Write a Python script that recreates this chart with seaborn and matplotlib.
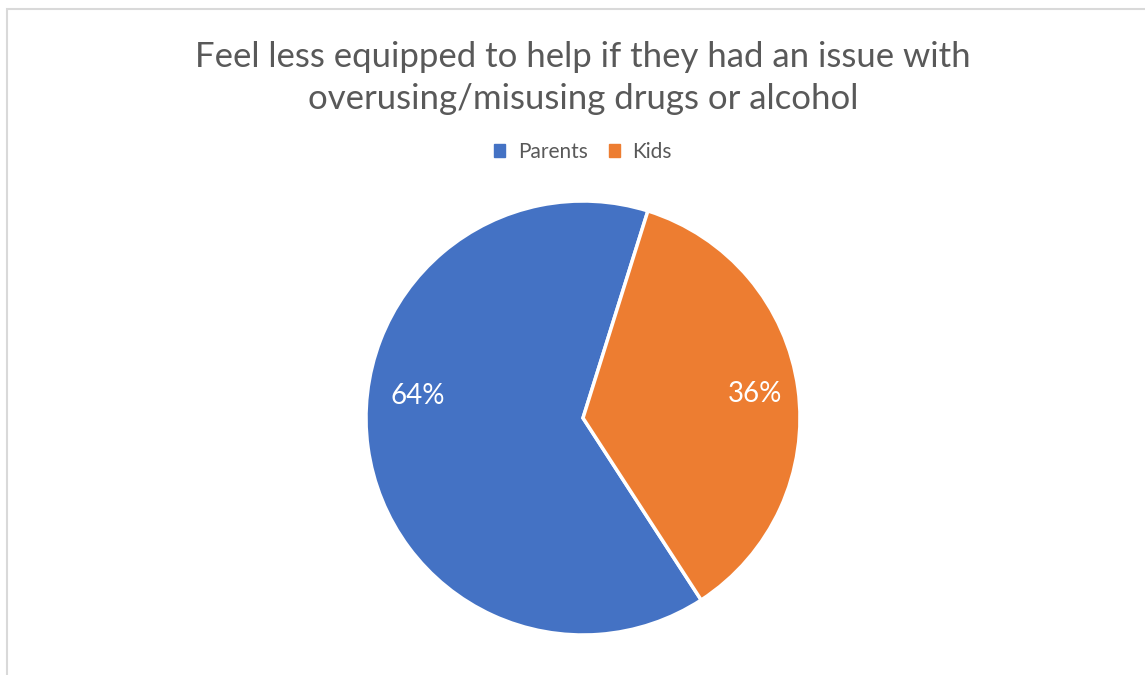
import matplotlib.pyplot as plt
import seaborn as sns
from matplotlib.patches import Rectangle

# Chart data
groups = ['Parents', 'Kids']
shares = [64, 36]
colors = ['#4472C4', '#ED7D31']
title = 'Feel less equipped to help if they had an issue with\noverusing/misusing drugs or alcohol'

sns.set_theme(style='white')
plt.rcParams['font.family'] = ['Lato', 'DejaVu Sans']

W, H = 1145, 675
fig = plt.figure(figsize=(W / 100, H / 100), dpi=100)

# light grey chart frame (cropped on right/bottom)
fig.patches.append(Rectangle((7 / W, -0.1), 1.2, 1.1 - 9 / H, transform=fig.transFigure,
                             fill=False, edgecolor='#D9D9D9', linewidth=1.5))

# pie area: centre (583, 418), radius 217 px
cx, cy, r = 583, 418, 217
ax = fig.add_axes([(cx - r) / W, (H - cy - r) / H, 2 * r / W, 2 * r / H])
wedges, texts, autotexts = ax.pie(
    shares, colors=colors, startangle=-57, counterclock=False,
    autopct='%1.0f%%', pctdistance=0.8,
    wedgeprops=dict(edgecolor='white', linewidth=2.5),
    textprops=dict(color='white', fontsize=20))
autotexts[0].set_position((-0.76, 0.1))
ax.set_xlim(-1, 1)
ax.set_ylim(-1, 1)
ax.set_aspect('equal')
ax.axis('off')

fig.text(cx / W, 1 - 78 / H, title, ha='center', va='center', fontsize=25,
         color='#595959', linespacing=1.38)

handles = [Rectangle((0, 0), 1, 1, color=c) for c in colors]
fig.legend(handles, groups, loc='center', bbox_to_anchor=(cx / W, 1 - 152 / H),
           ncol=2, frameon=False, fontsize=15, handlelength=0.55, handleheight=0.55,
           handletextpad=0.6, columnspacing=1.0, labelcolor='#595959')

fig.savefig('out.png', dpi=100)
